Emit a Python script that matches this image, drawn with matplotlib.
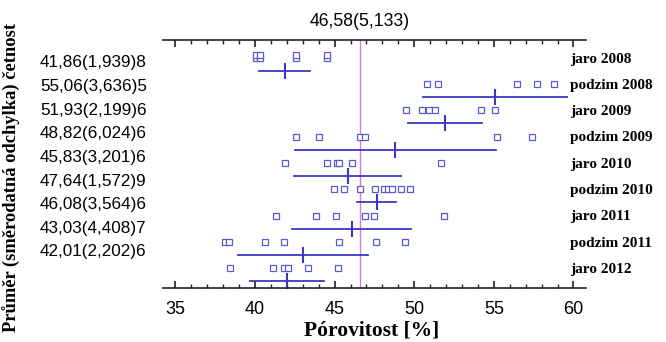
import matplotlib
matplotlib.use("Agg")
import matplotlib.pyplot as plt
import matplotlib.transforms as mtransforms
from matplotlib.ticker import MultipleLocator
import numpy as np

# ---- data ----
seasons = ["jaro 2008", "podzim 2008", "jaro 2009", "podzim 2009", "jaro 2010",
           "podzim 2010", "jaro 2011", "podzim 2011", "jaro 2012"]
means = [41.86, 55.06, 51.93, 48.82, 45.83, 47.64, 46.08, 43.03, 42.01]
sds = [1.939, 3.636, 2.199, 6.024, 3.201, 1.572, 3.564, 4.408, 2.202]
counts = [8, 5, 6, 6, 6, 9, 6, 7, 6]
obs_jaro2008 = [40.05, 40.05, 40.3, 40.3, 42.6, 42.6, 44.5, 44.5]
obs_podzim2008 = [50.8, 51.5, 56.44, 57.71, 58.79]
obs_jaro2009 = [49.5, 50.5, 50.9, 51.3, 54.2, 55.1]
obs_podzim2009 = [42.55, 44.0, 46.6, 46.92, 55.22, 57.38]
obs_jaro2010 = [41.91, 44.53, 45.12, 45.29, 46.07, 51.71]
obs_podzim2010 = [44.96, 45.59, 46.6, 47.51, 48.1, 48.35, 48.6, 49.14, 49.73]
obs_jaro2011 = [41.3, 43.8, 45.1, 46.9, 47.5, 51.85]
obs_podzim2011 = [38.1, 38.35, 40.6, 41.8, 45.3, 47.6, 49.45]
obs_jaro2012 = [38.45, 41.15, 41.85, 42.1, 43.3, 45.2]
observations = [obs_jaro2008, obs_podzim2008, obs_jaro2009, obs_podzim2009, obs_jaro2010,
                obs_podzim2010, obs_jaro2011, obs_podzim2011, obs_jaro2012]
grand_mean = 46.58
grand_sd = 5.133
t_crit = {4: 2.776, 5: 2.571, 6: 2.447, 7: 2.365, 8: 2.306}
x_ticks = [35, 40, 45, 50, 55, 60]

def fmt(v, d):
    return f"{v:.{d}f}".replace(".", ",")

# ---- style ----
pt_color = "#5a5ad0"
line_color = "#3838c8"
pink = "#d77fd7"

fig = plt.figure(figsize=(6.66, 3.42), dpi=100)
ax = fig.add_axes([163/666, 1-288/342, (586-163)/666, (288-40)/342])
ax.set_xlim(34.22, 60.79)
ax.set_ylim(8.755, -0.673)

ax.axvline(grand_mean, color=pink, lw=1.0, zorder=1)

for i, (obs, m, s, n) in enumerate(zip(observations, means, sds, counts)):
    # stack duplicates
    seen = {}
    ys = []
    for v in obs:
        c = seen.get(v, 0)
        ys.append(i - 0.12 * c)
        seen[v] = c + 1
    ax.plot(obs, ys, ls="none", marker="s", ms=4.0, mfc="white", mec=pt_color, mew=0.9, zorder=3)
    half = t_crit[n - 1] * s / np.sqrt(n)
    ax.plot([m - half, m + half], [i + 0.5, i + 0.5], color=line_color, lw=1.3, zorder=2)
    ax.plot([m], [i + 0.5], ls="none", marker="|", ms=12, mew=1.5, color=line_color, zorder=2)

trans_r = mtransforms.blended_transform_factory(ax.transAxes, ax.transData)
for i, s in enumerate(seasons):
    ax.text(0.962, i + 0.05, s, transform=trans_r, ha="left", va="center",
            fontsize=11, fontweight="bold", family="Liberation Serif", clip_on=False)

for i, (m, s, n) in enumerate(zip(means, sds, counts)):
    fig.text(40/666, 1 - (63 + 23.6*i)/342, f"{fmt(m,2)}({fmt(s,3)}){n}",
             ha="left", va="center", fontsize=12.3, family="Liberation Sans")

trans_t = mtransforms.blended_transform_factory(ax.transData, fig.transFigure)
ax.text(grand_mean, 1 - 22/342, f"{fmt(grand_mean,2)}({fmt(grand_sd,3)})", transform=trans_t,
        ha="center", va="center", fontsize=12.7, family="Liberation Sans")

fig.text(372/666, 1 - 330/342, "Pórovitost [%]", ha="center", va="center",
         fontsize=15.5, fontweight="bold", family="Liberation Serif")
fig.text(12/666, 1 - 177/342, "Průměr (směrodatná odchylka) četnost", ha="center", va="center",
         rotation=90, fontsize=13.3, fontweight="bold", family="Liberation Serif")

for side in ["left", "right"]:
    ax.spines[side].set_visible(False)
for side in ["top", "bottom"]:
    ax.spines[side].set_linewidth(1.2)
    ax.spines[side].set_color("#222222")
ax.set_yticks([])
ax.set_xticks(x_ticks)
ax.xaxis.set_minor_locator(MultipleLocator(1))
ax.tick_params(axis="x", which="both", direction="in", top=True, bottom=True, color="#222222")
ax.tick_params(axis="x", which="major", length=5, width=1.2, pad=9, labelsize=13)
ax.tick_params(axis="x", which="minor", length=3, width=1.0)
for lbl in ax.get_xticklabels():
    lbl.set_family("Liberation Sans")

fig.savefig("out.png", dpi=100)
